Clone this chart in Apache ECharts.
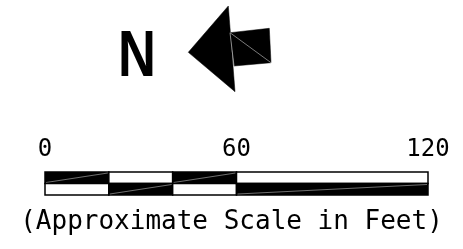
<!DOCTYPE html>
<html>
<head>
<meta charset="utf-8">
<script src="https://cdn.jsdelivr.net/npm/echarts@6/dist/echarts.min.js"></script>
<style>
  html, body { margin: 0; padding: 0; background: #fff; }
  #chart { width: 463px; height: 249px; }
</style>
</head>
<body>
<div id="chart"></div>
<script>
// scale bar segments (feet)
const segStart = [0, 20, 40, 60];
const segEnd = [20, 40, 60, 120];
const topBlack = [1, 0, 1, 0]; // top row black? bottom row is the opposite
const scaleTicks = [0, 60, 120];
const scaleTitle = "(Approximate Scale in Feet)";

// north arrow shapes (arrow grid units)
const arrowHead = [[88.3, 52.3], [128.3, 6], [135, 91.7]];
const arrowTail = [[130, 32.7], [169.3, 28.3], [171, 62.7], [134, 66]];
const northLabel = "N";

const MONO = "DejaVu Sans Mono";

const chart = echarts.init(document.getElementById("chart"), null, { renderer: "canvas" });

/**
 * 画比例尺的一段：上下两格，黑白交替
 */
const renderSegment = (params, api) => {
  const s = api.value(0);
  const e = api.value(1);
  const tb = api.value(2);
  const a = api.coord([s, 2]);
  const m = api.coord([e, 1]);
  const b = api.coord([e, 0]);
  const cells = [
    { x: a[0], y: a[1], w: m[0] - a[0], h: m[1] - a[1], black: tb === 1 },
    { x: a[0], y: m[1], w: m[0] - a[0], h: b[1] - m[1], black: tb !== 1 },
  ];
  const children = [];
  cells.forEach((c) => {
    children.push({
      type: "rect",
      shape: { x: c.x, y: c.y, width: c.w, height: c.h },
      style: { fill: c.black ? "#000" : "#fff", stroke: "#000", lineWidth: 1.5 },
    });
    if (c.black) {
      children.push({
        type: "line",
        shape: { x1: c.x + 1, y1: c.y + c.h - 1, x2: c.x + c.w - 1, y2: c.y + 1 },
        style: { stroke: "#bbb", lineWidth: 0.6 },
      });
    }
  });
  return { type: "group", children };
};

/**
 * 画指北箭头的多边形
 */
const renderArrow = (params, api) => {
  const head = arrowHead.map((p) => api.coord(p));
  const tail = arrowTail.map((p) => api.coord(p));
  return {
    type: "group",
    children: [
      { type: "polygon", shape: { points: head }, style: { fill: "#000", stroke: "#000", lineWidth: 0.5 } },
      { type: "polygon", shape: { points: tail }, style: { fill: "#000", stroke: "#000", lineWidth: 0.5 } },
      { type: "line", shape: { x1: tail[0][0], y1: tail[0][1], x2: tail[3][0], y2: tail[3][1] }, style: { stroke: "#ddd", lineWidth: 0.6 } },
      { type: "line", shape: { x1: tail[0][0], y1: tail[0][1], x2: tail[2][0], y2: tail[2][1] }, style: { stroke: "#ccc", lineWidth: 0.6 } },
    ],
  };
};

const option = {
  animation: false,
  backgroundColor: "#fff",
  title: {
    text: scaleTitle,
    left: "center",
    top: 204,
    textStyle: { fontFamily: MONO, fontSize: 26, fontWeight: "normal", color: "#000" },
  },
  grid: [
    { left: 45, width: 383, top: 172, height: 23 },
    { left: 100, top: 0, width: 180, height: 100 },
  ],
  xAxis: [
    {
      gridIndex: 0,
      type: "value",
      min: 0,
      max: 120,
      interval: 60,
      position: "top",
      axisLine: { show: false },
      axisTick: { show: false },
      splitLine: { show: false },
      axisLabel: {
        margin: 10,
        fontFamily: MONO,
        fontSize: 24,
        color: "#000",
        showMinLabel: true,
        showMaxLabel: true,
        formatter: (v) => (scaleTicks.includes(v) ? String(v) : ""),
      },
    },
    { gridIndex: 1, type: "value", min: 0, max: 180, show: false },
  ],
  yAxis: [
    { gridIndex: 0, type: "value", min: 0, max: 2, show: false },
    { gridIndex: 1, type: "value", min: 0, max: 100, inverse: true, show: false },
  ],
  graphic: [
    {
      type: "text",
      x: 137,
      y: 58,
      scaleX: 0.82,
      style: {
        text: northLabel,
        fontFamily: "Liberation Sans",
        fontWeight: "bold",
        fontSize: 64,
        fill: "#000",
        align: "center",
        verticalAlign: "middle",
      },
    },
  ],
  series: [
    {
      type: "custom",
      xAxisIndex: 0,
      yAxisIndex: 0,
      renderItem: renderSegment,
      data: segStart.map((s, i) => [s, segEnd[i], topBlack[i]]),
      silent: true,
    },
    {
      type: "custom",
      xAxisIndex: 1,
      yAxisIndex: 1,
      renderItem: renderArrow,
      data: [[0, 0]],
      silent: true,
    },
  ],
};

chart.setOption(option);
</script>
</body>
</html>
